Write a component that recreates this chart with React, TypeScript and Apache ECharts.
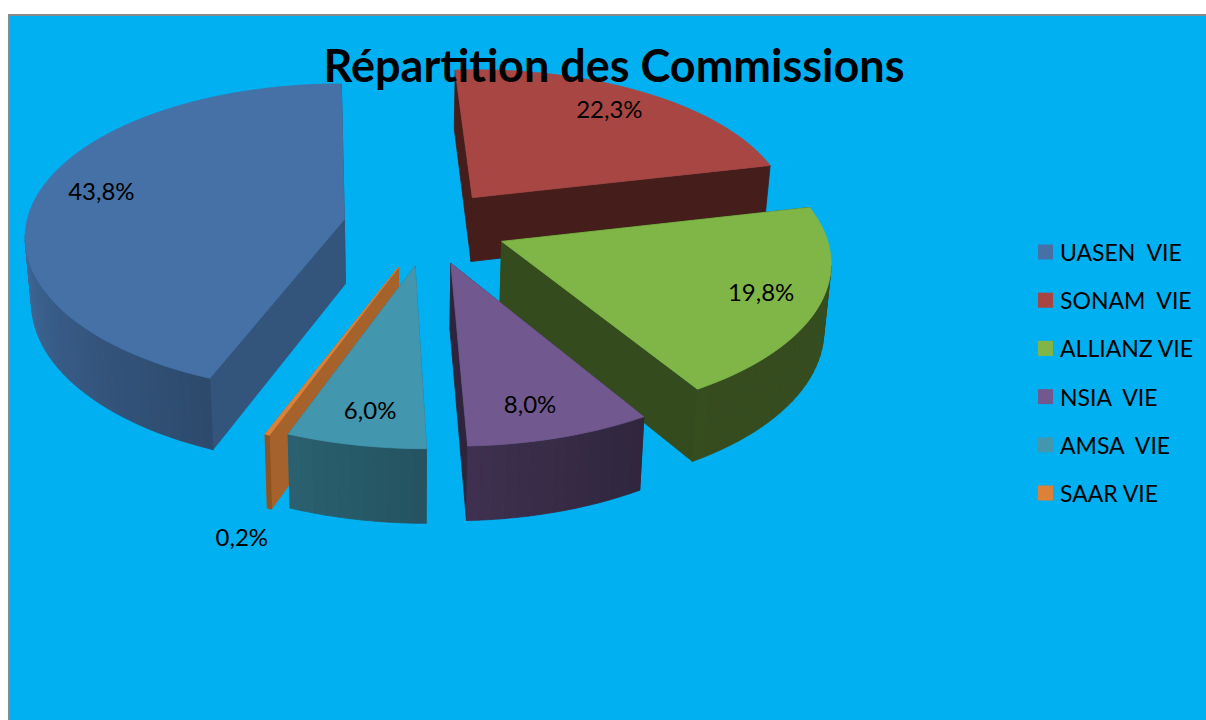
import React, { useEffect, useRef } from "react";
import * as echarts from "echarts";

const categories = ["UASEN  VIE", "SONAM  VIE", "ALLIANZ VIE", "NSIA  VIE", "AMSA  VIE", "SAAR VIE"];
const shares = [43.8, 22.3, 19.8, 8.0, 6.0, 0.2];
const colors = ["#4571A6", "#A84643", "#80B647", "#71588F", "#4296AE", "#DB8138"];
const cutShades = [0.74, 0.41, 0.41, 0.41, 0.7, 0.76];
const paintOrder = [2, 1, 3, 6, 5, 4];
const explodes = [0.265, 0.235, 0.25, 0.25, 0.25, 0.26];
const lifts = [2, -1, 0, 1, 3, 5];
const depthScales = [1.03, 1, 1, 1, 1, 1];
const labelRadius = [0.81, 0.82, 0.85, 0.8, 0.8, 1.1];
const labelDrop = [-6, -2, -3, 4, 4, 72];
const labelShift = [5, -5, -9, -6, 1, -13];
const titleText = "Répartition des Commissions";
const FONT = "Lato, Carlito, Calibri, sans-serif";

const FIRST_ANGLE = 202.3;
const RX = 319;
const RY = 149.6;
const PERSP = 0.125;
const SHEAR = 5;
const ROLL = 8;
const XC = 370;
const YC = 225;
const U_OFFSET = 0.18;
const DEPTH = 65;
const SHRINK_X = 400;
const rad = (d: number) => (d * Math.PI) / 180;
const total = shares.reduce((a, b) => a + b, 0);

function shade(hex: string, f: number) {
  const n = parseInt(hex.slice(1), 16);
  const c = (s: number) => Math.round(((n >> s) & 255) * f);
  return `rgb(${c(16)},${c(8)},${c(0)})`;
}
function wallShade(a: number) {
  const d = ((a % 360) + 360) % 360;
  if (d <= 150) return 0.42;
  if (d >= 265) return 0.92;
  return 0.42 + ((d - 150) / 115) * 0.5;
}

function makeRenderItem(index: number) {
  return (_params: any, api: any) => {
    const value = api.value(0);
    const before = shares.slice(0, index).reduce((a, b) => a + b, 0);
    const a1 = FIRST_ANGLE + (before / total) * 360;
    const a2 = a1 + (value / total) * 360;
    const mid = (a1 + a2) / 2;
    const ua = explodes[index] * Math.sin(rad(mid)) + U_OFFSET;
    const va = -explodes[index] * Math.cos(rad(mid));
    const pt = (a: number, f: number, z: number): number[] => {
      const side = f * Math.sin(rad(a));
      const u = ua + side;
      const v = va - f * Math.cos(rad(a));
      const s = 1 / (1 - PERSP * v);
      const x = XC + RX * u * s + SHEAR * v;
      const shrink = 1 - 0.017 * (z / DEPTH);
      return [
        SHRINK_X + (x - SHRINK_X) * shrink,
        YC + lifts[index] - ROLL * Math.max(0, side) + RY * depthScales[index] * v * s + z * (0.2 + 0.8 * s),
      ];
    };
    const base = colors[index];
    const zb = paintOrder[index] * 100;
    const children: any[] = [];
    const poly = (points: number[][], fill: string, z2: number) => ({
      type: "polygon",
      silent: true,
      z2,
      shape: { points },
      style: { fill, stroke: fill, lineWidth: 0.8 },
    });
    const cutFill = shade(base, cutShades[index]);
    for (const a of [a1, a2]) {
      children.push(poly([pt(a, 0, 0), pt(a, 1, 0), pt(a, 1, DEPTH), pt(a, 0, DEPTH)], cutFill, zb));
    }
    const steps = Math.max(2, Math.ceil((a2 - a1) / 2));
    const rim: number[][] = [pt(a1, 0, 0)];
    for (let i = 0; i <= steps; i++) {
      const a = a1 + ((a2 - a1) * i) / steps;
      rim.push(pt(a, 1, 0));
      if (i < steps) {
        const b = a1 + ((a2 - a1) * (i + 1)) / steps;
        if (pt(b, 1, 0)[0] < pt(a, 1, 0)[0]) {
          children.push(
            poly([pt(a, 1, 0), pt(b, 1, 0), pt(b, 1, DEPTH), pt(a, 1, DEPTH)], shade(base, wallShade((a + b) / 2)), zb + 1)
          );
        }
      }
    }
    children.push(poly(rim, base, zb + 2));
    const lp = pt(mid, labelRadius[index], labelDrop[index]);
    children.push({
      type: "text",
      silent: true,
      z2: 1000,
      x: lp[0] + labelShift[index],
      y: lp[1],
      style: {
        text: value.toFixed(1).replace(".", ",") + "%",
        fill: "#000",
        font: `24px ${FONT}`,
        align: "center",
        verticalAlign: "middle",
      },
    });
    return { type: "group", children };
  };
}

export default function App() {
  const ref = useRef<HTMLDivElement>(null);
  useEffect(() => {
    const chart = echarts.init(ref.current!, undefined, { renderer: "svg" });
    chart.setOption({
      animation: false,
      backgroundColor: "transparent",
      title: {
        text: titleText,
        left: 609,
        top: 37,
        textAlign: "center",
        textStyle: { fontFamily: FONT, fontWeight: "bold", fontSize: 45, color: "#000" },
      },
      legend: {
        orient: "vertical",
        left: 1038,
        top: 238,
        itemWidth: 15,
        itemHeight: 15,
        itemGap: 20.2,
        icon: "rect",
        selectedMode: false,
        padding: 0,
        data: categories,
        textStyle: { fontFamily: FONT, fontSize: 23, color: "#000", padding: [0, 0, 0, 2], lineHeight: 28 },
      },
      series: categories.map((name, i) => ({
        type: "custom",
        name,
        coordinateSystem: "none",
        silent: true,
        itemStyle: { color: colors[i] },
        data: [[shares[i]]],
        renderItem: makeRenderItem(i),
      })),
    });
    return () => chart.dispose();
  }, []);
  return (
    <div style={{ position: "fixed", left: 0, top: 0, width: 1206, height: 720, background: "#fff", overflow: "hidden" }}>
      <div
        style={{
          position: "absolute",
          left: 8,
          top: 14,
          width: 1300,
          height: 800,
          boxSizing: "border-box",
          background: "#00B0F0",
          border: "2px solid #8A8A8A",
        }}
      />
      <div ref={ref} style={{ position: "absolute", left: 0, top: 0, width: 1206, height: 720 }} />
    </div>
  );
}
